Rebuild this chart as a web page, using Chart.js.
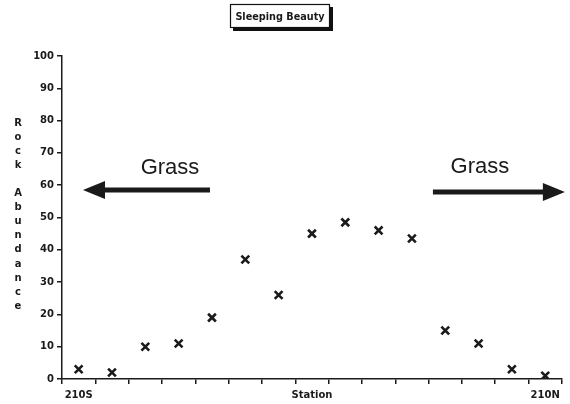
<!DOCTYPE html>
<html>
<head>
<meta charset="utf-8">
<script src="https://cdn.jsdelivr.net/npm/chart.js@4"></script>
<style>
  html, body { margin: 0; padding: 0; background: #fff; }
  #wrap { width: 570px; height: 404px; position: relative; }
</style>
</head>
<body>
<div id="wrap"><canvas id="c" width="570" height="404"></canvas></div>
<script>
// ---- Data ----
const stations = ['S1','S2','S3','S4','S5','S6','S7','S8','S9','S10','S11','S12','S13','S14','S15'];
const tickLabels = ['210S','','','','','','','Station','','','','','','','210N'];
const rockAbundance = [3, 2, 10, 11, 19, 37, 26, 45, 48.5, 46, 43.5, 15, 11, 3, 1];
const yTicks = [0, 10, 20, 30, 40, 50, 60, 70, 80, 90, 100];
const chartTitle = 'Sleeping Beauty';
const yTitle = 'Rock Abundance';
const annotations = [
  { text: 'Grass', textX: 2.74, textY: 65.3, from: 3.94, to: 0.13, y: 58.5 },
  { text: 'Grass', textX: 12.04, textY: 65.6, from: 10.63, to: 14.59, y: 57.9 }
];

const FONT = '"DejaVu Sans", sans-serif';
const INK = '#1a1a1a';

const decor = {
  id: 'decor',
  afterDraw(chart) {
    const ctx = chart.ctx;
    const xs = chart.scales.x, ys = chart.scales.y;
    ctx.save();
    // Title box with drop shadow
    const bx = 230, by = 4, bw = 100, bh = 24;
    ctx.fillStyle = '#111';
    ctx.fillRect(bx + 3, by + 3, bw, bh);
    ctx.fillStyle = '#fff';
    ctx.fillRect(bx, by, bw, bh);
    ctx.strokeStyle = '#111';
    ctx.lineWidth = 1.2;
    ctx.strokeRect(bx + 0.5, by + 0.5, bw - 1, bh - 1);
    ctx.fillStyle = INK;
    ctx.font = 'bold 9.7px ' + FONT;
    ctx.textAlign = 'center';
    ctx.textBaseline = 'middle';
    ctx.fillText(chartTitle, bx + bw / 2, by + bh / 2 + 1);

    // Stacked vertical y-axis title
    ctx.font = 'bold 10px ' + FONT;
    let yy = 123;
    for (const ch of yTitle) {
      if (ch !== ' ') ctx.fillText(ch, 18, yy);
      yy += 14.1;
    }

    // Arrows and "Grass" labels
    for (const a of annotations) {
      ctx.fillStyle = INK;
      ctx.font = '22px "Liberation Sans", Arial, sans-serif';
      ctx.textAlign = 'center';
      ctx.textBaseline = 'middle';
      ctx.fillText(a.text, xs.getPixelForValue(a.textX), ys.getPixelForValue(a.textY));
      const x0 = xs.getPixelForValue(a.from);
      const x1 = xs.getPixelForValue(a.to);
      const y = ys.getPixelForValue(a.y);
      const dir = Math.sign(x1 - x0);
      const headLen = 22, headHalf = 9;
      ctx.strokeStyle = INK;
      ctx.lineWidth = 5;
      ctx.beginPath();
      ctx.moveTo(x0, y);
      ctx.lineTo(x1 - dir * (headLen - 2), y);
      ctx.stroke();
      ctx.beginPath();
      ctx.moveTo(x1, y);
      ctx.lineTo(x1 - dir * headLen, y - headHalf);
      ctx.lineTo(x1 - dir * headLen, y + headHalf);
      ctx.closePath();
      ctx.fill();
    }
    ctx.restore();
  }
};

new Chart(document.getElementById('c'), {
  type: 'line',
  data: {
    labels: stations,
    datasets: [{
      data: rockAbundance,
      showLine: false,
      pointStyle: 'crossRot',
      pointRadius: 5.5,
      pointHoverRadius: 5.5,
      pointBorderWidth: 2.6,
      borderColor: INK,
      backgroundColor: INK
    }]
  },
  options: {
    responsive: false,
    animation: false,
    devicePixelRatio: 1,
    layout: { padding: { top: 56, left: 0, right: 8, bottom: 0 } },
    plugins: { legend: { display: false }, tooltip: { enabled: false }, title: { display: false } },
    scales: {
      x: {
        type: 'category',
        offset: true,
        grid: { offset: true, drawOnChartArea: false, drawTicks: true, tickLength: 5, color: INK, lineWidth: 1.5 },
        border: { display: true, color: INK, width: 1.5 },
        ticks: {
          autoSkip: false, maxRotation: 0, minRotation: 0, padding: 5,
          color: INK, font: { family: FONT, size: 10, weight: 'bold' },
          callback: (v, i) => tickLabels[i]
        },
        afterFit: s => { s.height = 25; }
      },
      y: {
        min: 0, max: 100,
        afterBuildTicks: s => { s.ticks = yTicks.map(v => ({ value: v })); },
        grid: { drawOnChartArea: false, drawTicks: true, tickLength: 5, color: INK, lineWidth: 1.5 },
        border: { display: true, color: INK, width: 1.5 },
        ticks: { color: INK, padding: 3, font: { family: FONT, size: 10, weight: 'bold' } },
        afterFit: s => { s.width = 62; }
      }
    }
  },
  plugins: [decor]
});
</script>
</body>
</html>
